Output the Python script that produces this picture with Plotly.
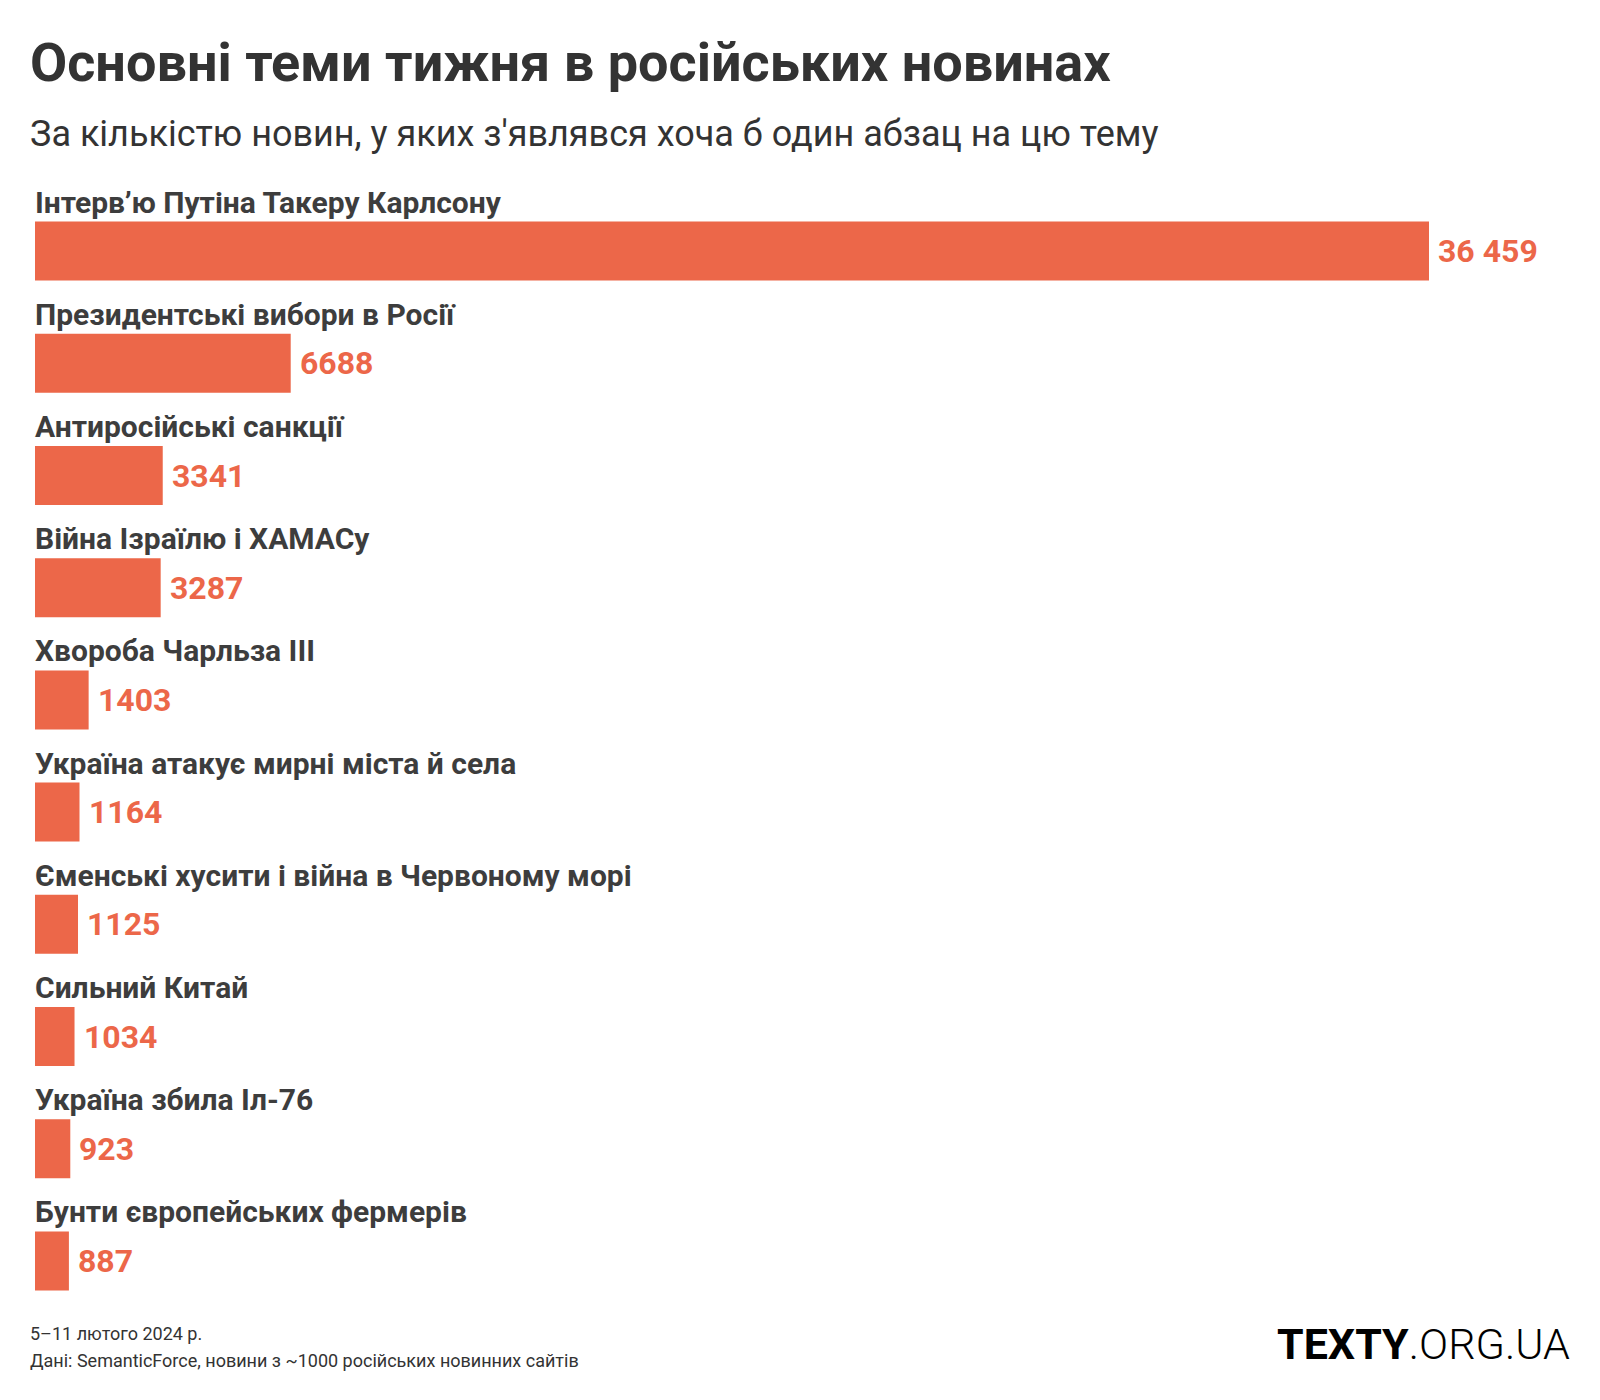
import plotly.graph_objects as go

categories = [
    "Інтерв’ю Путіна Такеру Карлсону",
    "Президентські вибори в Росії",
    "Антиросійські санкції",
    "Війна Ізраїлю і ХАМАСу",
    "Хвороба Чарльза III",
    "Україна атакує мирні міста й села",
    "Єменські хусити і війна в Червоному морі",
    "Сильний Китай",
    "Україна збила Іл-76",
    "Бунти європейських фермерів",
]
values = [36459, 6688, 3341, 3287, 1403, 1164, 1125, 1034, 923, 887]

title = "Основні теми тижня в російських новинах"
subtitle = "За кількістю новин, у яких з'являвся хоча б один абзац на цю тему"
footer1 = "5–11 лютого 2024 р."
footer2 = "Дані: SemanticForce, новини з ~1000 російських новинних сайтів"

OFF = 8  # page body margin offset
W, H = 1600, 1400
L, T = 35 - OFF, 195 - OFF
R, B = 35 + OFF, 83 + OFF
PW, PH = W - L - R, H - T - B
BAR = "#EC6749"
DARK = "#3d3d3d"
FONT = "Roboto"


def px(x):
    return (x - OFF - L) / PW


def py(y):
    return 1 - (y - OFF - T) / PH


def fmt(v):
    return f"{v:,}".replace(",", " ") if v >= 10000 else str(v)


xmax = 36459 * PW / (1429 - 35)

fig = go.Figure(go.Bar(
    x=values, y=categories, orientation="h",
    marker=dict(color=BAR, line=dict(width=0)),
    hoverinfo="skip",
))

ann = []
for c, v in zip(categories, values):
    ann.append(dict(x=0, y=c, xref="x", yref="y", text=c, showarrow=False,
                    xanchor="left", yanchor="middle", yshift=49, xshift=-2,
                    font=dict(family=FONT, size=30, color=DARK, weight="bold")))
    ann.append(dict(x=v, y=c, xref="x", yref="y", text=fmt(v), showarrow=False,
                    xanchor="left", yanchor="middle", xshift=7,
                    font=dict(family=FONT, size=32, color=BAR, weight="bold")))

ann += [
    dict(x=px(28), y=py(63), xref="paper", yref="paper", text=title, showarrow=False,
         xanchor="left", yanchor="middle",
         font=dict(family=FONT, size=54, color="#333333", weight="bold")),
    dict(x=px(28), y=py(134), xref="paper", yref="paper", text=subtitle, showarrow=False,
         xanchor="left", yanchor="middle",
         font=dict(family=FONT, size=36, color="#333333")),
    dict(x=px(28), y=py(1333), xref="paper", yref="paper", text=footer1, showarrow=False,
         xanchor="left", yanchor="middle",
         font=dict(family=FONT, size=18, color="#333333")),
    dict(x=px(28), y=py(1360), xref="paper", yref="paper", text=footer2, showarrow=False,
         xanchor="left", yanchor="middle",
         font=dict(family=FONT, size=18, color="#333333")),
    dict(x=px(1572), y=py(1344), xref="paper", yref="paper",
         text="<b>TEXTY</b>.ORG.UA", showarrow=False,
         xanchor="right", yanchor="middle",
         font=dict(family=FONT, size=43, color="#000000", weight=300)),
]

fig.update_layout(
    width=W, height=H,
    margin=dict(l=L, r=R, t=T, b=B, pad=0),
    paper_bgcolor="white", plot_bgcolor="white",
    bargap=0.474,
    showlegend=False,
    xaxis=dict(range=[0, xmax], visible=False, fixedrange=True),
    yaxis=dict(range=[len(categories) - 0.5, -0.5], visible=False, fixedrange=True),
    annotations=ann,
)

fig.write_html("out.html")
